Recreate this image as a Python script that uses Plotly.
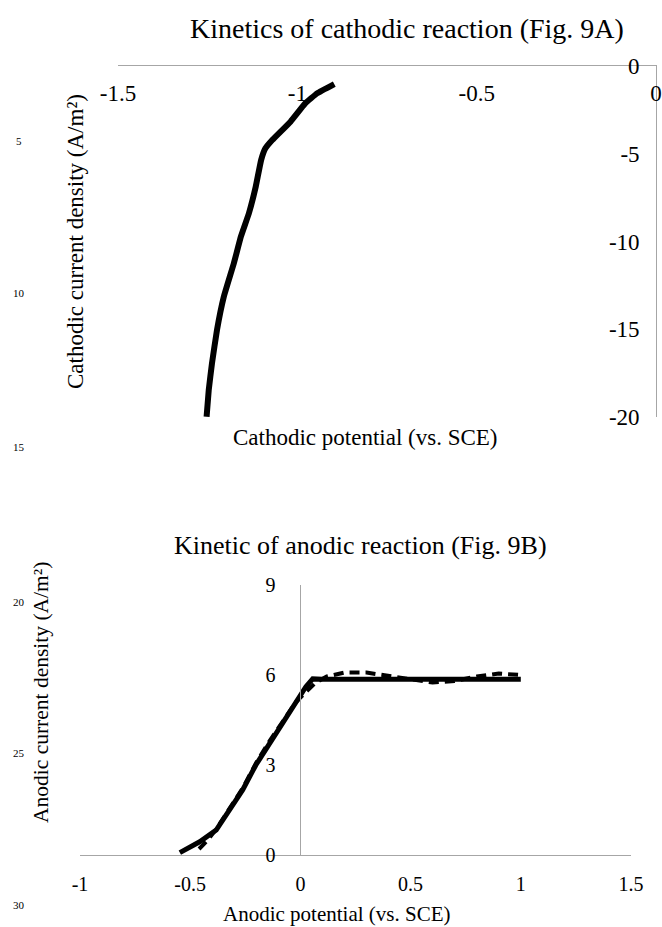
import plotly.graph_objects as go

# ---- Fig. 9A : cathodic reaction ----
cath_potential = [-0.897, -0.945, -0.978, -1.019, -1.070, -1.089, -1.101, -1.116,
                  -1.135, -1.157, -1.177, -1.205, -1.224, -1.238, -1.247, -1.253]
cath_current = [-1.03, -1.56, -2.13, -3.17, -4.22, -4.69, -5.36, -6.88,
                -8.39, -9.7, -11.24, -13.15, -15.04, -16.94, -18.46, -19.98]
cath_xticks = [-1.5, -1, -0.5, 0]
cath_xticktext = ["-1.5", "-1", "-0.5", "0"]
cath_yticks = [0, -5, -10, -15, -20]
cath_yticktext = ["0", "-5", "-10", "-15", "-20"]

# ---- Fig. 9B : anodic reaction ----
anod_x_solid = [-0.547, -0.457, -0.382, -0.321, -0.262, -0.202, -0.141, -0.081,
                -0.020, 0.025, 0.056, 0.10, 0.3, 0.5, 0.7, 1.0]
anod_y_solid = [0.08, 0.44, 0.83, 1.5, 2.17, 3.0, 3.72, 4.39,
                5.11, 5.61, 5.87, 5.86, 5.86, 5.86, 5.86, 5.86]
anod_x_dash = [-0.46, -0.42, -0.38, -0.32, -0.26, -0.20, -0.14, -0.08, -0.02, 0.02,
               0.07, 0.12, 0.2, 0.3, 0.4, 0.5, 0.6, 0.7, 0.8, 0.9, 1.0]
anod_y_dash = [0.2, 0.5, 0.88, 1.55, 2.25, 3.08, 3.8, 4.45, 5.1, 5.4,
               5.75, 5.95, 6.08, 6.08, 5.98, 5.85, 5.75, 5.8, 5.95, 6.05, 6.0]
anod_xticks = [-1, -0.5, 0, 0.5, 1, 1.5]
anod_xticktext = ["-1", "-0.5", "0", "0.5", "1", "1.5"]
anod_yticks = [0, 3, 6, 9]
anod_yticktext = ["0", "3", "6", "9"]

line_numbers = ["5", "10", "15", "20", "25", "30"]
line_number_y = [141, 293, 447, 602, 753, 905]

W, H = 662, 927
FONT = "Liberation Serif"
AXIS_GRAY = "#A6A6A6"

fig = go.Figure()
fig.add_trace(go.Scatter(x=cath_potential, y=cath_current, mode="lines",
                         line=dict(color="black", width=6, shape="spline", smoothing=0.3),
                         xaxis="x", yaxis="y", showlegend=False))
fig.add_trace(go.Scatter(x=anod_x_solid, y=anod_y_solid, mode="lines",
                         line=dict(color="black", width=5), xaxis="x2", yaxis="y2",
                         showlegend=False))
fig.add_trace(go.Scatter(x=anod_x_dash, y=anod_y_dash, mode="lines",
                         line=dict(color="black", width=4, dash="10px,6px"),
                         xaxis="x2", yaxis="y2", showlegend=False))

def px_x(p):
    return p / W

def px_y(p):
    return 1 - p / H

annotations = [
    dict(text="Kinetics of cathodic reaction (Fig. 9A)", x=px_x(407), y=px_y(28),
         font=dict(size=28, family=FONT, color="black")),
    dict(text="Cathodic potential (vs. SCE)", x=px_x(365), y=px_y(437),
         font=dict(size=23, family=FONT, color="black")),
    dict(text="Cathodic current density (A/m²)", x=px_x(75), y=px_y(242),
         textangle=-90, font=dict(size=23, family=FONT, color="black")),
    dict(text="Kinetic of anodic reaction (Fig. 9B)", x=px_x(361), y=px_y(545),
         font=dict(size=26, family=FONT, color="black")),
    dict(text="Anodic potential (vs. SCE)", x=px_x(336), y=px_y(914),
         font=dict(size=21, family=FONT, color="black")),
    dict(text="Anodic current density (A/m²)", x=px_x(41), y=px_y(693),
         textangle=-90, font=dict(size=21.5, family=FONT, color="black")),
]
for t, yy in zip(line_numbers, line_number_y):
    annotations.append(dict(text=t, x=px_x(19), y=px_y(yy),
                            font=dict(size=11, family=FONT, color="black")))
for a in annotations:
    a.update(xref="paper", yref="paper", showarrow=False,
             xanchor="center", yanchor="middle")

common = dict(showline=True, linecolor=AXIS_GRAY, linewidth=1, showgrid=False,
              zeroline=False, ticks="", automargin=False)

fig.update_layout(
    template="none",
    width=W, height=H, autosize=False,
    margin=dict(l=0, r=0, t=0, b=0, pad=0),
    paper_bgcolor="white", plot_bgcolor="white",
    font=dict(family=FONT, color="black"),
    annotations=annotations,
    xaxis=dict(domain=[px_x(118), px_x(656)], range=[-1.5, 0], anchor="y",
               side="top", tickvals=cath_xticks, ticktext=cath_xticktext,
               ticklabelposition="inside", ticklabeloverflow="allow",
               ticklabelstandoff=21, tickfont=dict(size=23, family=FONT, color="black"),
               **common),
    yaxis=dict(domain=[px_y(417), px_y(66)], range=[-20, 0], anchor="x",
               side="right", tickvals=cath_yticks, ticktext=cath_yticktext,
               ticklabelposition="inside", ticklabeloverflow="allow",
               ticklabelstandoff=18, tickfont=dict(size=23, family=FONT, color="black"),
               **common),
    xaxis2=dict(domain=[px_x(80), px_x(631)], range=[-1, 1.5], anchor="y2",
                tickvals=anod_xticks, ticktext=anod_xticktext,
                ticklabelstandoff=11, tickfont=dict(size=20, family=FONT, color="black"),
                **common),
    yaxis2=dict(domain=[px_y(855), px_y(585)], range=[0, 9], anchor="free",
                position=px_x(80 + 220.4),
                tickvals=anod_yticks, ticktext=anod_yticktext,
                ticklabelstandoff=21, tickfont=dict(size=20, family=FONT, color="black"),
                **common),
)

fig.write_html("out.html")
